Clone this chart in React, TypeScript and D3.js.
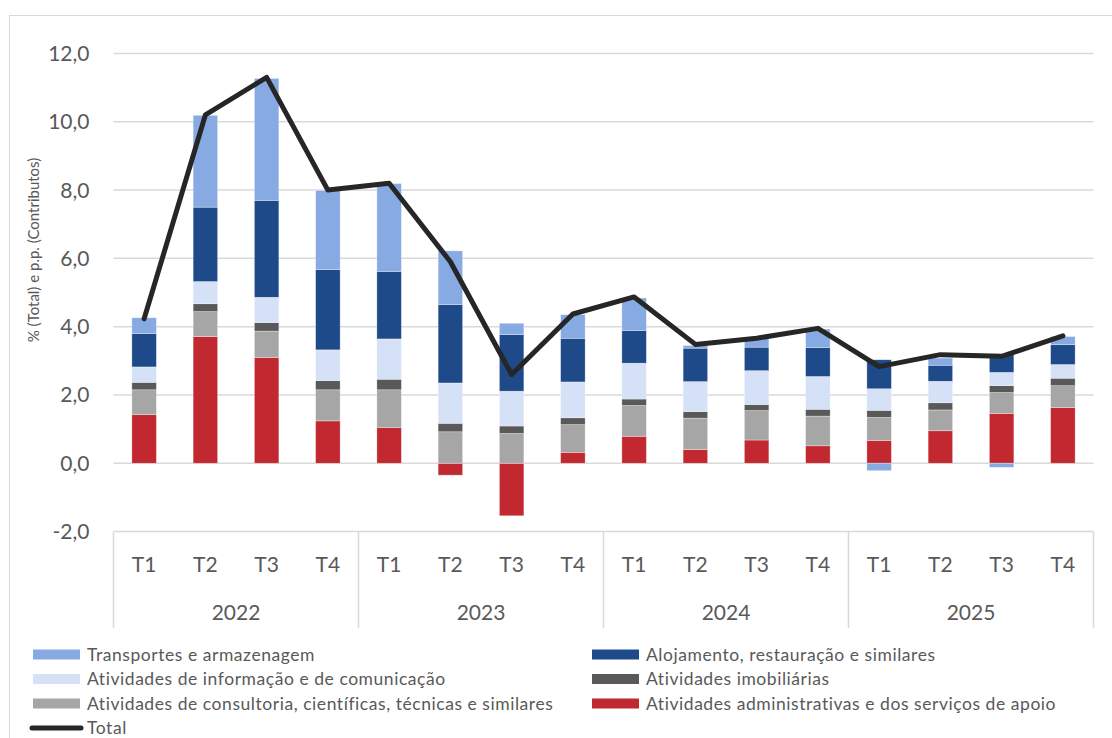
import * as d3 from 'd3';

const years = ['2022', '2023', '2024', '2025'];
const quarters = ['T1', 'T2', 'T3', 'T4'];

// contributos (p.p.) por setor, T1 2022 .. T4 2025
const admin = [1.42, 3.71, 3.10, 1.24, 1.05, -0.35, -1.54, 0.32, 0.79, 0.40, 0.68, 0.51, 0.67, 0.95, 1.46, 1.63];
const consultoria = [0.73, 0.73, 0.77, 0.91, 1.10, 0.92, 0.87, 0.81, 0.90, 0.92, 0.86, 0.87, 0.67, 0.61, 0.61, 0.64];
const imobiliarias = [0.22, 0.23, 0.25, 0.27, 0.31, 0.25, 0.22, 0.20, 0.19, 0.19, 0.18, 0.20, 0.21, 0.21, 0.20, 0.22];
const informacao = [0.45, 0.65, 0.74, 0.90, 1.18, 1.18, 1.02, 1.05, 1.05, 0.88, 0.99, 0.96, 0.63, 0.63, 0.39, 0.40];
const alojamento = [0.98, 2.18, 2.84, 2.35, 1.98, 2.30, 1.66, 1.28, 0.96, 0.98, 0.69, 0.85, 0.85, 0.47, 0.54, 0.58];
const transportes = [0.46, 2.69, 3.57, 2.32, 2.57, 1.57, 0.33, 0.69, 0.95, 0.08, 0.25, 0.54, -0.22, 0.21, -0.12, 0.24];
const total = [4.23, 10.2, 11.3, 8.0, 8.2, 5.9, 2.6, 4.37, 4.87, 3.48, 3.66, 3.95, 2.83, 3.18, 3.13, 3.73];

const yTicks = [-2, 0, 2, 4, 6, 8, 10, 12];

// stacking order, bottom to top
const series = [
  { key: 'admin', label: 'Atividades administrativas e dos serviços de apoio', color: '#C1282F', values: admin },
  { key: 'consultoria', label: 'Atividades de consultoria, científicas, técnicas e similares', color: '#A6A6A6', values: consultoria },
  { key: 'imob', label: 'Atividades imobiliárias', color: '#595959', values: imobiliarias },
  { key: 'info', label: 'Atividades de informação e de comunicação', color: '#D5E1F6', values: informacao },
  { key: 'aloj', label: 'Alojamento, restauração e similares', color: '#1F4A89', values: alojamento },
  { key: 'transp', label: 'Transportes e armazenagem', color: '#88AAE2', values: transportes },
];

// legend layout order (two columns)
const legendOrder = ['transp', 'aloj', 'info', 'imob', 'consultoria', 'admin'];

const FONT = 'Lato, "Open Sans", sans-serif';
const TEXT = '#595959';
const GRID = '#D9D9D9';

export default function App() {
  const width = 1112;
  const height = 738;
  const left = 113.5;
  const right = 1093.5;

  const cats = years.flatMap(y => quarters.map(q => `${y}-${q}`));
  const x = d3.scaleBand<string>()
    .domain(cats)
    .range([left, right])
    .paddingInner(0.6)
    .paddingOuter(0.3);
  const y = d3.scaleLinear().domain([-2, 12]).range([531.5, 53.5]);

  const rows = cats.map((c, i) => {
    const r: Record<string, any> = { cat: c };
    series.forEach(s => { r[s.key] = s.values[i]; });
    return r;
  });
  const stacked = d3.stack<any>()
    .keys(series.map(s => s.key))
    .offset(d3.stackOffsetDiverging)(rows);

  const cx = (c: string) => (x(c) ?? 0) + x.bandwidth() / 2;
  const line = d3.line<number>()
    .x((_, i) => cx(cats[i]))
    .y(d => y(d));

  const step = x.step();
  const yearEdges = d3.range(years.length + 1).map(k => left + k * 4 * step);
  const byKey = Object.fromEntries(series.map(s => [s.key, s]));

  const legendFont = { fontFamily: FONT, fontSize: 17.5, letterSpacing: 0.55, fill: TEXT };

  return (
    <svg width={width} height={height} style={{ position: 'absolute', left: 0, top: 0, display: 'block' }}>
      <rect x={0} y={0} width={width} height={height} fill="#fff" />
      <rect x={9.5} y={15.5} width={1110} height={740} fill="none" stroke={GRID} strokeWidth={1} />

      {/* grid */}
      {yTicks.map(t => (
        <g key={t}>
          <line x1={left} x2={right} y1={y(t)} y2={y(t)} stroke={GRID} strokeWidth={1.5} />
          <text x={89.5} y={y(t)} dy="0.36em" textAnchor="end" fontFamily={FONT} fontSize={21} fill={TEXT}>
            {t.toFixed(1).replace('.', ',')}
          </text>
        </g>
      ))}

      <text
        transform={`translate(33.5,250) rotate(-90)`}
        textAnchor="middle"
        dy="0.36em"
        fontFamily={FONT}
        fontSize={15}
        fill={TEXT}
      >
        % (Total) e p.p. (Contributos)
      </text>

      {/* bars */}
      {stacked.map((layer, li) => (
        <g key={layer.key} fill={series[li].color}>
          {layer.map((d, i) => {
            const y0 = y(d[0]);
            const y1 = y(d[1]);
            return (
              <rect
                key={i}
                x={x(cats[i])}
                width={x.bandwidth()}
                y={Math.min(y0, y1)}
                height={Math.abs(y0 - y1)}
                stroke="#ffffff"
                strokeOpacity={0.55}
                strokeWidth={0.6}
              />
            );
          })}
        </g>
      ))}

      {/* total line */}
      <path d={line(total) ?? ''} fill="none" stroke="#262626" strokeWidth={5} strokeLinejoin="round" strokeLinecap="round" />

      {/* category axis */}
      {yearEdges.map((ex, k) => (
        <line key={k} x1={ex} x2={ex} y1={y(-2)} y2={628} stroke={GRID} strokeWidth={1.5} />
      ))}
      {cats.map((c, i) => (
        <text key={c} x={cx(c)} y={564} dy="0.36em" textAnchor="middle" fontFamily={FONT} fontSize={21} fill={TEXT}>
          {quarters[i % 4]}
        </text>
      ))}
      {years.map((yr, k) => (
        <text
          key={yr}
          x={(yearEdges[k] + yearEdges[k + 1]) / 2}
          y={612}
          dy="0.36em"
          textAnchor="middle"
          fontFamily={FONT}
          fontSize={21}
          fill={TEXT}
        >
          {yr}
        </text>
      ))}

      {/* legend */}
      {legendOrder.map((k, i) => {
        const s = byKey[k];
        const col = i % 2;
        const row = Math.floor(i / 2);
        const lx = col === 0 ? 33 : 592;
        const ly = 654.5 + row * 24.5;
        return (
          <g key={k}>
            <rect x={lx} y={ly - 5} width={47} height={10} fill={s.color} />
            <text x={lx + 54} y={ly} dy="0.36em" {...legendFont}>
              {s.label}
            </text>
          </g>
        );
      })}
      <line x1={32} x2={81} y1={728} y2={728} stroke="#262626" strokeWidth={5} strokeLinecap="round" />
      <text x={87} y={728} dy="0.36em" {...legendFont}>Total</text>
    </svg>
  );
}
